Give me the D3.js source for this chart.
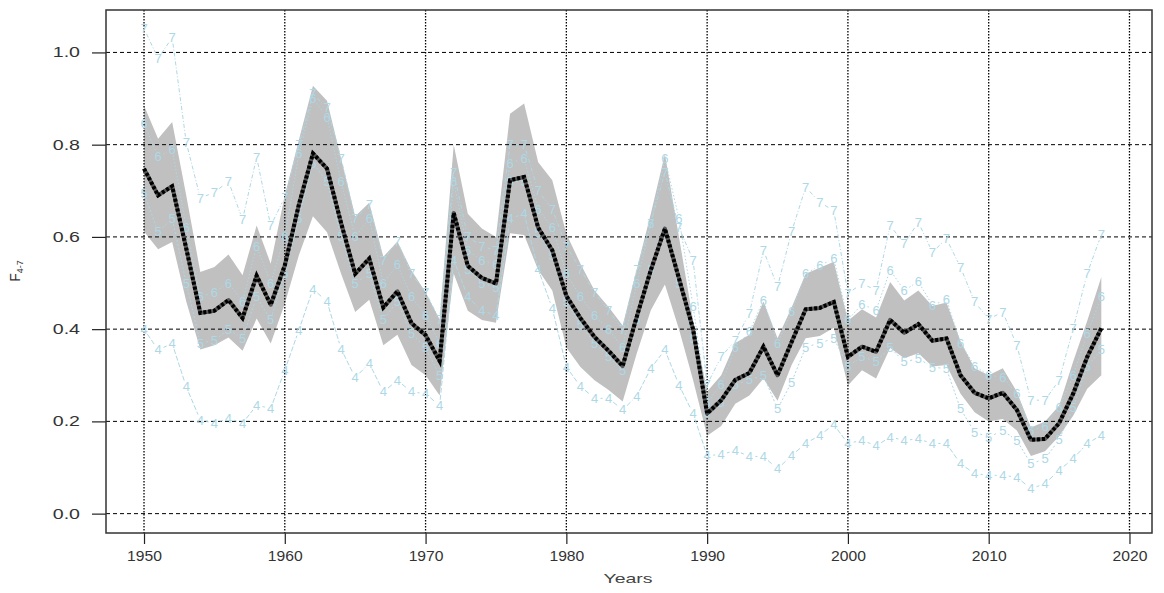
<!DOCTYPE html>
<html>
<head>
<meta charset="utf-8">
<script src="https://cdn.jsdelivr.net/npm/d3@7"></script>
<style>
  body { margin: 0; background: #fff; }
  svg { display: block; }
  text { font-family: "Liberation Sans", Arial, sans-serif; }
</style>
</head>
<body>
<svg id="chart" width="1164" height="593"></svg>
<script>
// Fishing mortality, mean over ages 4-7, with confidence band and per-age values
const years = [1950,1951,1952,1953,1954,1955,1956,1957,1958,1959,
               1960,1961,1962,1963,1964,1965,1966,1967,1968,1969,
               1970,1971,1972,1973,1974,1975,1976,1977,1978,1979,
               1980,1981,1982,1983,1984,1985,1986,1987,1988,1989,
               1990,1991,1992,1993,1994,1995,1996,1997,1998,1999,
               2000,2001,2002,2003,2004,2005,2006,2007,2008,2009,
               2010,2011,2012,2013,2014,2015,2016,2017,2018];

const fMean = [0.748,0.690,0.710,0.575,0.435,0.440,0.463,0.424,0.516,0.453,
               0.538,0.670,0.781,0.748,0.630,0.520,0.553,0.447,0.482,0.413,
               0.387,0.331,0.652,0.537,0.511,0.499,0.723,0.730,0.620,0.571,
               0.472,0.424,0.383,0.353,0.320,0.427,0.528,0.618,0.510,0.400,
               0.217,0.246,0.290,0.305,0.362,0.300,0.372,0.443,0.446,0.459,
               0.340,0.362,0.351,0.420,0.392,0.411,0.375,0.380,0.300,0.262,
               0.250,0.262,0.225,0.160,0.162,0.196,0.260,0.340,0.402];

const fUpper = [0.885,0.813,0.849,0.690,0.524,0.535,0.562,0.517,0.625,0.542,
                0.690,0.810,0.928,0.895,0.770,0.645,0.674,0.557,0.590,0.527,
                0.480,0.421,0.800,0.650,0.618,0.600,0.867,0.889,0.762,0.723,
                0.607,0.542,0.484,0.448,0.408,0.530,0.650,0.780,0.600,0.420,
                0.265,0.300,0.370,0.388,0.460,0.380,0.447,0.520,0.533,0.546,
                0.418,0.443,0.425,0.502,0.462,0.484,0.450,0.458,0.374,0.315,
                0.300,0.315,0.264,0.187,0.200,0.234,0.330,0.418,0.513];

const fLower = [0.612,0.573,0.589,0.460,0.356,0.365,0.382,0.353,0.423,0.369,
                0.455,0.560,0.645,0.610,0.520,0.437,0.464,0.365,0.388,0.322,
                0.300,0.256,0.520,0.440,0.420,0.414,0.608,0.604,0.528,0.484,
                0.360,0.318,0.289,0.268,0.243,0.347,0.441,0.497,0.400,0.290,
                0.169,0.190,0.238,0.256,0.293,0.245,0.322,0.380,0.385,0.403,
                0.278,0.311,0.293,0.359,0.337,0.348,0.319,0.322,0.260,0.220,
                0.200,0.205,0.180,0.125,0.135,0.168,0.212,0.271,0.300];

const fAge4 = [0.400,0.355,0.369,0.275,0.203,0.196,0.207,0.196,0.235,0.228,
               0.311,0.398,0.487,0.460,0.357,0.295,0.326,0.264,0.289,0.264,
               0.260,0.234,0.550,0.470,0.440,0.430,0.640,0.650,0.530,0.445,
               0.318,0.276,0.250,0.250,0.225,0.255,0.315,0.355,0.279,0.217,
               0.126,0.128,0.137,0.124,0.124,0.097,0.126,0.152,0.170,0.193,
               0.152,0.159,0.147,0.166,0.159,0.162,0.152,0.152,0.108,0.087,
               0.083,0.083,0.079,0.054,0.065,0.094,0.119,0.152,0.170];

const fAge5 = [0.695,0.611,0.640,0.500,0.370,0.375,0.400,0.380,0.470,0.420,
               0.520,0.640,0.760,0.720,0.600,0.500,0.520,0.420,0.460,0.390,
               0.360,0.300,0.640,0.530,0.500,0.490,0.720,0.720,0.610,0.560,
               0.460,0.410,0.370,0.340,0.310,0.420,0.530,0.610,0.500,0.380,
               0.220,0.240,0.280,0.290,0.300,0.227,0.285,0.361,0.370,0.380,
               0.320,0.340,0.330,0.360,0.329,0.336,0.318,0.314,0.227,0.177,
               0.166,0.180,0.159,0.108,0.119,0.160,0.230,0.320,0.355];

const fAge6 = [0.845,0.774,0.790,0.620,0.470,0.480,0.500,0.460,0.580,0.500,
               0.600,0.780,0.900,0.860,0.720,0.600,0.640,0.500,0.540,0.470,
               0.430,0.370,0.720,0.570,0.550,0.540,0.760,0.770,0.660,0.620,
               0.520,0.470,0.430,0.400,0.360,0.500,0.630,0.770,0.640,0.450,
               0.240,0.280,0.360,0.394,0.463,0.370,0.438,0.520,0.538,0.553,
               0.420,0.454,0.441,0.528,0.484,0.503,0.452,0.464,0.370,0.320,
               0.300,0.296,0.260,0.180,0.190,0.230,0.300,0.390,0.470];

const fAge7 = [1.052,0.987,1.032,0.805,0.684,0.697,0.720,0.638,0.773,0.624,
               0.686,0.800,0.910,0.880,0.770,0.640,0.670,0.550,0.590,0.520,
               0.480,0.420,0.740,0.600,0.580,0.570,0.800,0.800,0.700,0.660,
               0.580,0.530,0.480,0.440,0.400,0.530,0.630,0.740,0.620,0.550,
               0.280,0.340,0.376,0.434,0.571,0.492,0.611,0.708,0.675,0.657,
               0.477,0.499,0.484,0.625,0.585,0.632,0.567,0.596,0.534,0.459,
               0.422,0.437,0.365,0.246,0.246,0.289,0.401,0.521,0.605];

const ageLabels = ["4", "5", "6", "7"];
const yTicks = [0.0, 0.2, 0.4, 0.6, 0.8, 1.0];
const xTicks = [1950, 1960, 1970, 1980, 1990, 2000, 2010, 2020];

const svg = d3.select("#chart");
const box = { left: 106, right: 1152, top: 10, bottom: 533 };
const FONT = "\"Liberation Sans\", Arial, sans-serif";

const x = d3.scaleLinear().domain([1947.3, 2021.6]).range([box.left, box.right]);
const y = d3.scaleLinear().domain([-0.042, 1.092]).range([box.bottom, box.top]);

const rows = years.map((yr, i) => ({ year: yr, mean: fMean[i], lo: fLower[i], hi: fUpper[i] }));

// confidence band
svg.append("path")
  .datum(rows)
  .attr("fill", "#c0c0c0")
  .attr("d", d3.area().x(d => x(d.year)).y0(d => y(d.lo)).y1(d => y(d.hi)));

// grid
svg.append("g").selectAll("line").data(xTicks).join("line")
  .attr("x1", d => x(d)).attr("x2", d => x(d))
  .attr("y1", box.top).attr("y2", box.bottom)
  .attr("stroke", "#000").attr("stroke-width", 1.3).attr("stroke-dasharray", "1.5,1.5");
svg.append("g").selectAll("line").data(yTicks).join("line")
  .attr("x1", box.left).attr("x2", box.right)
  .attr("y1", d => y(d)).attr("y2", d => y(d))
  .attr("stroke", "#000").attr("stroke-width", 1).attr("stroke-dasharray", "4,3");

// per-age series, drawn as numbers joined by broken lines
const ageSeries = [fAge4, fAge5, fAge6, fAge7];
const ageDash = ["5,2", "2,2", "1.5,2", "4,2,1,2"];
const gap = 6;
ageSeries.forEach((vals, k) => {
  const pts = years.map((yr, i) => [x(yr), y(vals[i])]);
  const segs = [];
  for (let i = 0; i < pts.length - 1; i++) {
    const [x0, y0] = pts[i], [x1, y1] = pts[i + 1];
    const len = Math.hypot(x1 - x0, y1 - y0);
    if (len <= 2 * gap) continue;
    const ux = (x1 - x0) / len, uy = (y1 - y0) / len;
    segs.push([x0 + ux * gap, y0 + uy * gap, x1 - ux * gap, y1 - uy * gap]);
  }
  const g = svg.append("g");
  g.selectAll("line").data(segs).join("line")
    .attr("x1", d => d[0]).attr("y1", d => d[1]).attr("x2", d => d[2]).attr("y2", d => d[3])
    .attr("stroke", "#add8e6").attr("stroke-width", 1).attr("stroke-dasharray", ageDash[k]);
  g.selectAll("text").data(pts).join("text")
    .attr("x", d => d[0]).attr("y", d => d[1])
    .attr("text-anchor", "middle").attr("dy", "0.35em")
    .attr("font-size", 13).attr("fill", "#add8e6")
    .text(ageLabels[k]);
});

// mean line
const meanLine = d3.line().x(d => x(d.year)).y(d => y(d.mean));
svg.append("path").datum(rows).attr("fill", "none")
  .attr("stroke", "#555").attr("stroke-width", 4).attr("stroke-linejoin", "round")
  .attr("d", meanLine);
svg.append("path").datum(rows).attr("fill", "none")
  .attr("stroke", "#000").attr("stroke-width", 4).attr("stroke-dasharray", "3,2")
  .attr("d", meanLine);

// axes
const yAxis = svg.append("g").attr("transform", `translate(${box.left},0)`)
  .call(d3.axisLeft(y).tickValues(yTicks).tickFormat(d3.format(".1f")).tickSize(14));
const xAxis = svg.append("g").attr("transform", `translate(0,${box.bottom})`)
  .call(d3.axisBottom(x).tickValues(xTicks).tickFormat(d3.format("d")).tickSize(11).tickPadding(7));
[yAxis, xAxis].forEach(a => {
  a.select(".domain").remove();
  a.selectAll(".tick line").attr("stroke", "#222").attr("stroke-width", 1.2);
  a.selectAll(".tick text").attr("fill", "#333").attr("font-size", 14).attr("font-family", FONT);
});
// y tick labels are set wide: right edge 26px left of the frame
yAxis.selectAll(".tick text")
  .attr("x", -26 / 1.4).attr("transform", "scale(1.4,1)");
xAxis.selectAll(".tick text").attr("transform", "scale(1.12,1)");

// plot frame
svg.append("rect")
  .attr("x", box.left).attr("y", box.top)
  .attr("width", box.right - box.left).attr("height", box.bottom - box.top)
  .attr("fill", "none").attr("stroke", "#333").attr("stroke-width", 1.5);

// axis titles
svg.append("text")
  .attr("transform", `translate(${(box.left + box.right) / 2 - 1},583) scale(1.5,1)`)
  .attr("text-anchor", "middle").attr("font-size", 13).attr("fill", "#444")
  .text("Years");
const yTitle = svg.append("text")
  .attr("transform", "translate(20,271) rotate(-90)")
  .attr("text-anchor", "middle").attr("font-size", 14).attr("fill", "#333");
yTitle.append("tspan").text("F");
yTitle.append("tspan").attr("font-size", 9).attr("dy", 3).text("4-7");
</script>
</body>
</html>
